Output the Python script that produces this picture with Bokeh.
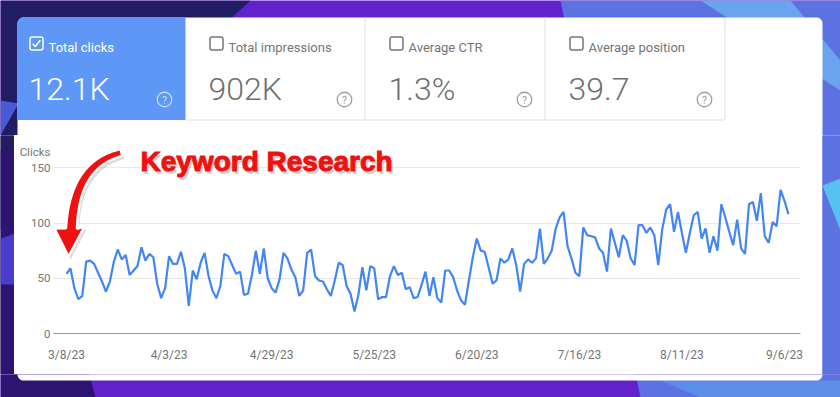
import numpy as np
import pandas as pd
from bokeh.plotting import figure
from bokeh.layouts import column, row
from bokeh.models import Range1d, FixedTicker, CustomJSTickFormatter
from bokeh.core.properties import value
from bokeh.embed import file_html
from bokeh.resources import INLINE

# ---------------- data ----------------
start_date = "2023-03-08"
clicks = [
    54, 59, 41, 31, 34, 65, 66, 63, 55, 47,
    38, 47, 65, 76, 67, 71, 53, 57, 61, 78,
    66, 72, 69, 45, 32, 41, 70, 63, 63, 74,
    59, 25, 57, 49, 64, 73, 52, 39, 32, 43,
    72, 70, 62, 54, 56, 35, 36, 53, 75, 54,
    77, 50, 41, 37, 49, 73, 68, 58, 51, 34,
    39, 73, 76, 52, 48, 47, 40, 34, 48, 64,
    62, 43, 36, 20, 35, 60, 39, 61, 59, 31,
    33, 33, 52, 61, 53, 55, 40, 42, 32, 33,
    44, 56, 34, 51, 32, 28, 57, 57, 51, 39,
    30, 26, 48, 69, 86, 75, 74, 60, 45, 48,
    68, 64, 67, 77, 62, 38, 63, 67, 64, 68,
    95, 63, 68, 75, 95, 105, 110, 79, 68, 55,
    52, 96, 89, 88, 87, 77, 73, 56, 95, 82,
    69, 89, 84, 68, 62, 98, 98, 91, 96, 89,
    62, 94, 112, 117, 92, 110, 91, 73, 91, 107,
    110, 86, 95, 73, 88, 75, 117, 105, 92, 80,
    103, 77, 72, 117, 119, 102, 127, 88, 82, 101,
    97, 130, 120, 108,
]
tick_dates = ["2023-03-08", "2023-04-03", "2023-04-29", "2023-05-25",
              "2023-06-20", "2023-07-16", "2023-08-11", "2023-09-06"]
y_ticks = [0, 50, 100, 150]
y_axis_title = "Clicks"

metric_names = ["Total clicks", "Total impressions", "Average CTR", "Average position"]
metric_values = ["12.1K", "902K", "1.3%", "39.7"]
metric_selected = [True, False, False, False]
annotation_text = "Keyword Research"

# ---------------- page layout (pixel coordinates of the page) ----------------
PAGE_W, PAGE_H = 840, 397
CARD = (17, 17, 822, 380)          # left, top, right, bottom
CHART_LEFT = 14                    # chart figure starts a little left of the card
TOP_SPLIT = 135                    # top figure covers y 0..135
BOTTOM_STRIP_TOP = 374
FRAME = (53, 135, 800, 333)        # chart frame: left, top, right, bottom
TITLE_Y = 151                      # page y of the "Clicks" caption

BG_BASE = "#6122cc"
BG_SHAPES = [
    ([(0, 0), (250, 0), (0, 230)], "#221c62"),
    ([(0, 150), (30, 150), (95, 397), (0, 397)], "#2d1470"),
    ([(0, 100), (18, 103), (0, 135)], "#4b58d8"),
    ([(0, 238), (18, 232), (14, 284), (0, 284)], "#4a3ccc"),
    ([(560, 0), (840, 0), (840, 397), (640, 397)], "#5b72e0"),
    ([(700, 0), (790, 0), (840, 60), (840, 90)], "#6aa4ee"),
    ([(822, 185), (840, 178), (840, 230)], "#55c2f2"),
    ([(660, 380), (840, 380), (840, 397), (700, 397)], "#5c8ee6"),
]


def rrect(l, t, r, b, radii):
    tl, tr, br, bl = radii
    pts = []

    def arc(cx, cy, rad, a0, a1):
        if rad <= 0:
            return [(cx, cy)]
        return [(cx + rad * np.cos(a), cy + rad * np.sin(a))
                for a in np.linspace(a0, a1, 10)]
    pts += arc(l + tl, t + tl, tl, np.pi, 1.5 * np.pi)
    pts += arc(r - tr, t + tr, tr, 1.5 * np.pi, 2 * np.pi)
    pts += arc(r - br, b - br, br, 0, 0.5 * np.pi)
    pts += arc(l + bl, b - bl, bl, 0.5 * np.pi, np.pi)
    return [p[0] for p in pts], [p[1] for p in pts]


def canvas_fig(x0, x1, y0, y1, bg=BG_BASE):
    f = figure(width=int(x1 - x0), height=int(y1 - y0),
               x_range=Range1d(x0, x1), y_range=Range1d(y1, y0),
               x_axis_location=None, y_axis_location=None,
               output_backend="svg", toolbar_location=None, min_border=0)
    f.grid.visible = False
    f.outline_line_color = None
    f.background_fill_color = bg
    f.border_fill_color = bg
    return f


def paint_background(f):
    for pts, col in BG_SHAPES:
        f.patch([a for a, b in pts], [b for a, b in pts], fill_color=col, line_color=None)


# ---------------- top figure: background, card header, metric tiles ----------------
top = canvas_fig(0, PAGE_W, 0, TOP_SPLIT)
paint_background(top)
cx, cy = rrect(CARD[0], CARD[1], CARD[2], 300, (6, 6, 0, 0))
top.patch(cx, cy, fill_color="white", line_color=None)
tile_edges = [17, 185, 364, 544, 724]
bx, by = rrect(tile_edges[0], CARD[1], tile_edges[1], 119.5, (6, 0, 0, 0))
top.patch(bx, by, fill_color="#5e97f6", line_color=None)
top.segment(x0=[185], y0=[119.5], x1=[724.5], y1=[119.5], line_color="#e0e0e0", line_width=1)
top.segment(x0=[e + 0.5 for e in tile_edges[2:]], y0=[17] * 3,
            x1=[e + 0.5 for e in tile_edges[2:]], y1=[119.5] * 3,
            line_color="#e0e0e0", line_width=1)

tile_x = [29, 209, 389, 569]
for i, (name, val, sel) in enumerate(zip(metric_names, metric_values, metric_selected)):
    x0 = tile_x[i]
    col = "white" if sel else "#757575"
    kx, ky = rrect(x0 + 0.5, 36.5, x0 + 13.5, 49.5, (2, 2, 2, 2))
    top.patch(kx, ky, fill_alpha=0, line_color=col, line_width=1.5)
    if sel:
        top.line([x0 + 3.2, x0 + 5.8, x0 + 10.8], [43.3, 46, 39.8],
                 line_color="white", line_width=1.6)
    top.text(x=[x0 + 19], y=[46.5], text=[name], text_color=col,
             text_font=value("Roboto"), text_font_size="13px",
             text_baseline="alphabetic")
    top.text(x=[x0 - 1], y=[88.5], text=[val],
             text_color="white" if sel else "#6f6f6f",
             text_font=value("Roboto Light"), text_font_size="32px",
             text_baseline="alphabetic")
    hx = x0 + 135
    icol = "#c9dcfb" if sel else "#9e9e9e"
    top.scatter([hx], [99], marker="circle", size=14.5, fill_alpha=0,
                line_color=icol, line_width=1.3)
    top.text(x=[hx], y=[99.5], text=["?"], text_color=icol,
             text_font=value("Roboto"), text_font_size="10.5px",
             text_align="center", text_baseline="middle")

# ---------------- side strips and bottom ----------------
left = canvas_fig(0, CHART_LEFT, TOP_SPLIT, BOTTOM_STRIP_TOP, bg="#2d1470")
paint_background(left)
right = canvas_fig(CARD[2], PAGE_W, TOP_SPLIT, BOTTOM_STRIP_TOP, bg="#5b72e0")
paint_background(right)
bottom = canvas_fig(0, PAGE_W, BOTTOM_STRIP_TOP, PAGE_H)
paint_background(bottom)
cx, cy = rrect(CARD[0], 300, CARD[2], CARD[3], (0, 0, 6, 6))
bottom.patch(cx, cy, fill_color="white", line_color=None)

# ---------------- chart ----------------
dates = pd.date_range(start_date, periods=len(clicks), freq="D")
px_per_day = 3.945
day0_x = 66
day = pd.Timedelta(days=1)
x_start = dates[0] + ((FRAME[0] - day0_x) / px_per_day) * day
x_end = dates[0] + ((FRAME[2] - day0_x) / px_per_day) * day
px_per_unit = 1.105
y_end = (FRAME[3] - FRAME[1]) / px_per_unit
title_pos = (FRAME[3] - TITLE_Y) / px_per_unit
tick_ms = [pd.Timestamp(d).value // 10**6 for d in tick_dates]

p = figure(width=CARD[2] - CHART_LEFT, height=BOTTOM_STRIP_TOP - TOP_SPLIT,
           x_axis_type="datetime", output_backend="svg", toolbar_location=None,
           x_range=Range1d(x_start.to_pydatetime(), x_end.to_pydatetime()),
           y_range=Range1d(0, y_end))
p.min_border_left = FRAME[0] - CHART_LEFT
p.min_border_right = CARD[2] - FRAME[2]
p.min_border_top = FRAME[1] - TOP_SPLIT
p.min_border_bottom = BOTTOM_STRIP_TOP - FRAME[3]
p.outline_line_color = None
p.border_fill_color = "white"
p.background_fill_color = "white"
p.extra_x_ranges = {"px": Range1d(FRAME[0], FRAME[2])}
p.extra_y_ranges = {"py": Range1d(FRAME[3], FRAME[1])}

p.line(dates, clicks, line_color="#4285f4", line_width=2.2)

p.xaxis.ticker = FixedTicker(ticks=tick_ms)
p.xaxis.formatter = CustomJSTickFormatter(code="""
const d = new Date(tick);
return (d.getUTCMonth() + 1) + "/" + d.getUTCDate() + "/" + String(d.getUTCFullYear()).slice(2);
""")
p.xaxis.axis_line_color = "#9a9a9a"
p.xaxis.axis_line_width = 1
p.xaxis.major_tick_line_color = None
p.xaxis.minor_tick_line_color = None
p.xaxis.major_tick_out = 0
p.xaxis.major_tick_in = 0
p.xaxis.minor_tick_out = 0
p.xaxis.major_label_standoff = 14
p.xaxis.major_label_text_font = "Roboto"
p.xaxis.major_label_text_font_size = "12px"
p.xaxis.major_label_text_color = "#757575"

# y axis: numeric ticks plus the "Clicks" caption at the top of the axis
p.yaxis.ticker = FixedTicker(ticks=y_ticks + [title_pos])
p.yaxis.formatter = CustomJSTickFormatter(
    args=dict(title=y_axis_title, pos=title_pos),
    code="return Math.abs(tick - pos) < 1e-6 ? title : String(Math.round(tick));")
p.yaxis.axis_line_color = None
p.yaxis.major_tick_line_color = None
p.yaxis.minor_tick_line_color = None
p.yaxis.major_tick_out = 0
p.yaxis.major_tick_in = 0
p.yaxis.minor_tick_out = 0
p.yaxis.major_label_standoff = 3
p.yaxis.major_label_text_font = "Roboto"
p.yaxis.major_label_text_font_size = "11.5px"
p.yaxis.major_label_text_color = "#757575"

p.xgrid.grid_line_color = None
p.ygrid.ticker = FixedTicker(ticks=y_ticks)
p.ygrid.grid_line_color = "#e8e8e8"
p.ygrid.grid_line_width = 1


# ---------------- annotation arrow + text (page pixel coordinates) ----------------
def bezier(p0, p1, p2, p3, n=40):
    t = np.linspace(0, 1, n)[:, None]
    p0, p1, p2, p3 = map(np.array, (p0, p1, p2, p3))
    pts = ((1 - t) ** 3) * p0 + 3 * ((1 - t) ** 2) * t * p1 + 3 * (1 - t) * t ** 2 * p2 + t ** 3 * p3
    d = (-3 * (1 - t) ** 2) * p0 + (3 * (1 - t) ** 2 - 6 * t * (1 - t)) * p1 \
        + (6 * t * (1 - t) - 3 * t ** 2) * p2 + 3 * t ** 2 * p3
    d = d / np.linalg.norm(d, axis=1)[:, None]
    return pts, d


ctr, tan = bezier((121, 152), (92, 159), (73, 181), (71, 228))
nrm = np.column_stack([-tan[:, 1], tan[:, 0]])
wid = np.linspace(7, 11, len(ctr))[:, None] / 2
left_edge = ctr + nrm * wid
right_edge = ctr - nrm * wid
head = [(54, 228), (68, 256), (84, 226)]
arrow = [tuple(q) for q in left_edge] + head + [tuple(q) for q in right_edge[::-1]]
ax = [float(a) for a, b in arrow]
ay = [float(b) for a, b in arrow]
rn = dict(x_range_name="px", y_range_name="py")

p.patch([a + 2 for a in ax], [b + 3 for b in ay], fill_color="#555555",
        fill_alpha=0.22, line_color=None, **rn)
p.patch(ax, ay, fill_color="#f01010", line_color="white", line_width=2.5, **rn)
p.text(x=[142], y=[164], text=[annotation_text], text_color="#777777",
       text_alpha=0.35, text_font=value("Liberation Sans"),
       text_font_style="bold", text_font_size="28px",
       text_baseline="alphabetic", **rn)
p.text(x=[140], y=[161], text=[annotation_text], text_color="#f01010",
       text_outline_color="#f01010", text_font=value("Liberation Sans"),
       text_font_style="bold", text_font_size="28px",
       text_baseline="alphabetic", **rn)

middle = row(column(left), column(p), column(right), spacing=0)
page = column(top, middle, bottom, spacing=0)
open("out.html", "w").write(file_html(page, INLINE))
